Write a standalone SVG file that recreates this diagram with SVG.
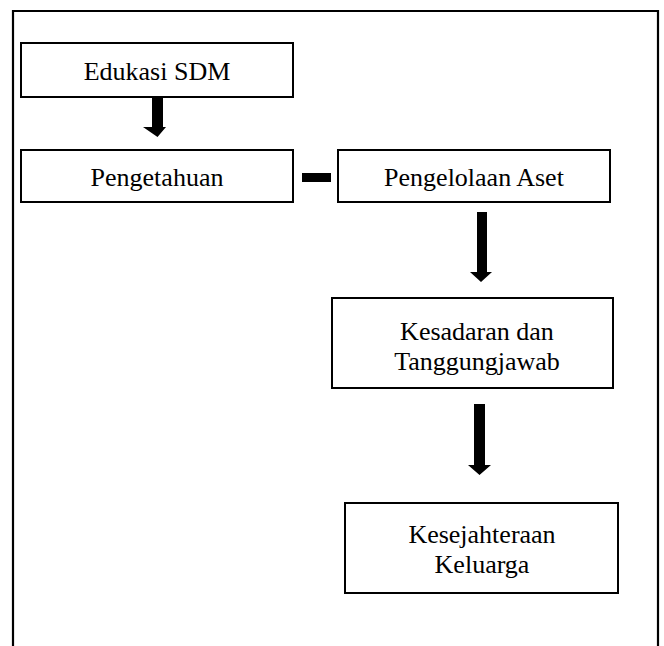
<svg xmlns="http://www.w3.org/2000/svg" width="664" height="646" viewBox="0 0 664 646">
<style>
.box{fill:#fff;stroke:#000;stroke-width:2}
.t{font-family:"Liberation Serif","Times New Roman",serif;font-size:26px;fill:#000;text-anchor:middle}
.arrow{fill:#000}
</style>
<rect x="0" y="0" width="664" height="646" fill="#fff"/>
<path d="M13 660 V11 H658 V660" fill="none" stroke="#000" stroke-width="2.2"/>
<g id="n1"><rect class="box" x="21" y="43" width="272" height="54"/><text class="t" x="157" y="80">Edukasi SDM</text></g>
<g id="n2"><rect class="box" x="21" y="150" width="272" height="52"/><text class="t" x="157" y="186">Pengetahuan</text></g>
<g id="n3"><rect class="box" x="338" y="150" width="272" height="52"/><text class="t" x="474" y="186">Pengelolaan Aset</text></g>
<g id="n4"><rect class="box" x="332" y="298" width="281" height="90"/><text class="t" x="477" y="340">Kesadaran dan</text><text class="t" x="477" y="370">Tanggungjawab</text></g>
<g id="n5"><rect class="box" x="345" y="503" width="273" height="90"/><text class="t" x="482" y="543">Kesejahteraan</text><text class="t" x="482" y="573">Keluarga</text></g>
<g id="connectors">
<polygon class="arrow" points="152,97 163,97 163,127 166,127 157.5,137 143,127 152,127" transform="translate(0,0)"/>
<rect class="arrow" x="302" y="173" width="29" height="9"/>
<polygon class="arrow" points="477,212 487,212 487,272 492,272 481,282 470,272 477,272"/>
<polygon class="arrow" points="474,404 485,404 485,465 491,465 479.5,475 468,465 474,465"/>
</g>
</svg>
